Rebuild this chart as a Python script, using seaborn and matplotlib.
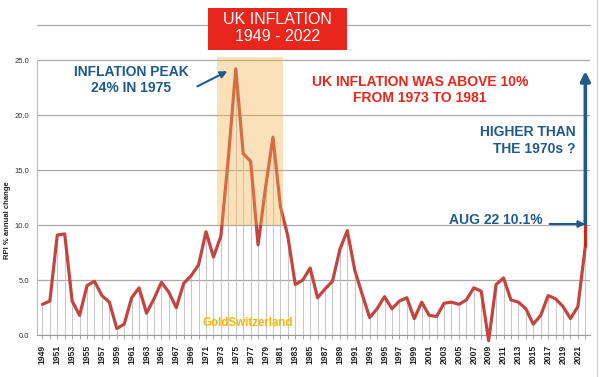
import matplotlib
matplotlib.use('Agg')
import matplotlib.pyplot as plt
import matplotlib.patches as patches
import seaborn as sns
import pandas as pd
import numpy as np

# data (RPI % annual change)
years = list(range(1949, 2023))
rpi = [2.8, 3.1, 9.1, 9.2, 3.1, 1.8, 4.5, 4.9, 3.6, 3.0,
       0.6, 1.0, 3.4, 4.3, 2.0, 3.3, 4.8, 3.9, 2.5, 4.7,
       5.4, 6.4, 9.4, 7.1, 9.0, 16.1, 24.2, 16.5, 15.8, 8.2,
       13.4, 18.0, 11.7, 9.0, 4.6, 5.0, 6.1, 3.4, 4.2, 4.9,
       7.8, 9.5, 5.9, 3.7, 1.6, 2.4, 3.5, 2.4, 3.1, 3.4,
       1.5, 3.0, 1.8, 1.7, 2.9, 3.0, 2.8, 3.2, 4.3, 4.0,
       -0.5, 4.6, 5.2, 3.2, 3.0, 2.4, 1.0, 1.8, 3.6, 3.3,
       2.6, 1.5, 2.6, 8.1]
aug22 = 10.1
yticks = [0, 5, 10, 15, 20, 25]
df = pd.DataFrame({'year': years, 'rpi': rpi})

sns.set_style('white')
plt.rcParams['font.family'] = ['Liberation Sans', 'DejaVu Sans']

RED_LINE = '#C4453F'
BLUE = '#1E5B8C'
RED = '#E8261C'

fig = plt.figure(figsize=(6, 3.77), dpi=100)
ax = fig.add_axes([0.062, 0.111, 0.921, 0.823])

# thin drop lines from zero to each point
ax.vlines(df['year'], 0, df['rpi'].clip(lower=0), color='#BDBDBD', lw=0.6, zorder=1)
sns.lineplot(data=df, x='year', y='rpi', ax=ax, color=RED_LINE, lw=2.3, zorder=3, clip_on=False)
# jump to the Aug 22 reading
ax.plot([2022, 2022], [rpi[-1], aug22], color='#D62418', lw=2.2, zorder=3, clip_on=False)

# 1973-1981 shaded band
ax.add_patch(patches.Rectangle((1972.5, 10), 8.9, 15.3, facecolor='#F6B14A', alpha=0.38,
                               edgecolor='none', zorder=4))

ax.set_xlim(1948.3, 2022.6)
ax.set_ylim(0, 28.2)
ax.set_yticks(yticks)
ax.set_yticklabels([f'{v:.1f}' for v in yticks], fontsize=5.5, color='#333333')
ax.yaxis.grid(True, color='#AAAAAA', lw=0.9, zorder=0)
ax.set_xticks(years)
ax.set_xticklabels([str(y) if (y - 1949) % 2 == 0 else '' for y in years],
                   rotation=90, fontsize=6.2, fontweight='bold', color='#222222')
ax.tick_params(axis='x', length=3, width=0.6, color='#999999', pad=4, bottom=True)
ax.tick_params(axis='y', length=0, pad=6)
ax.set_xlabel('')
ax.set_ylabel('')
for s in ['top', 'right']:
    ax.spines[s].set_visible(False)
ax.spines['left'].set_color('#BBBBBB')
ax.spines['left'].set_bounds(0, 25)
ax.spines['bottom'].set_color('#999999')
ax.plot([1948.3, 2022.6], [28.2, 28.2], color='#AAAAAA', lw=0.9, clip_on=False, zorder=0)

fig.text(0.013, 1 - 220 / 377, 'RPI % annual change', rotation=90, fontsize=5.5,
         fontweight='bold', va='center', ha='center', color='#222222')

# annotations
ax.text(1960.9, 23.2, 'INFLATION PEAK\n24% IN 1975', color=BLUE, fontsize=10, fontweight='bold',
        ha='center', va='center', linespacing=1.15)
ax.annotate('', xy=(1974.2, 24.1), xytext=(1969.5, 22.5),
            arrowprops=dict(arrowstyle='-|>', color=BLUE, lw=1.5, mutation_scale=10), zorder=6)
ax.text(1999.8, 22.3, 'UK INFLATION WAS ABOVE 10%\nFROM 1973 TO 1981', color=RED, fontsize=10,
        fontweight='bold', ha='center', va='center', linespacing=1.2)
ax.text(2020.7, 17.7, 'HIGHER THAN\nTHE 1970s ?', color=BLUE, fontsize=10, fontweight='bold',
        ha='right', va='center', linespacing=1.2)
ax.text(2010.0, 10.5, 'AUG 22 10.1%', color=BLUE, fontsize=10, fontweight='bold',
        ha='center', va='center')
ax.annotate('', xy=(2022, aug22), xytext=(2017.2, aug22),
            arrowprops=dict(arrowstyle='-|>', color=BLUE, lw=1.5, mutation_scale=10,
                            shrinkA=0, shrinkB=0),
            annotation_clip=False)
ax.annotate('', xy=(2022, 24.0), xytext=(2022, aug22),
            arrowprops=dict(arrowstyle='-|>', color=BLUE, lw=2.6, mutation_scale=14,
                            shrinkA=0, shrinkB=0),
            annotation_clip=False)
ax.text(1976.6, 1.1, 'GoldSwitzerland', color='#F7B500', fontsize=8.3, fontweight='bold',
        ha='center', va='center')

# title box
fig.patches.append(patches.Rectangle((0.347, 0.867), 0.232, 0.111, transform=fig.transFigure,
                                     facecolor=RED, edgecolor='none'))
fig.text(0.462, 0.925, 'UK INFLATION\n1949 - 2022', color='white', fontsize=11.5,
         ha='center', va='center', linespacing=1.2)
fig.add_artist(plt.Line2D([0.995, 0.995], [0, 1], transform=fig.transFigure, color='#CCCCCC', lw=0.8))

fig.savefig('out.png', dpi=100)
